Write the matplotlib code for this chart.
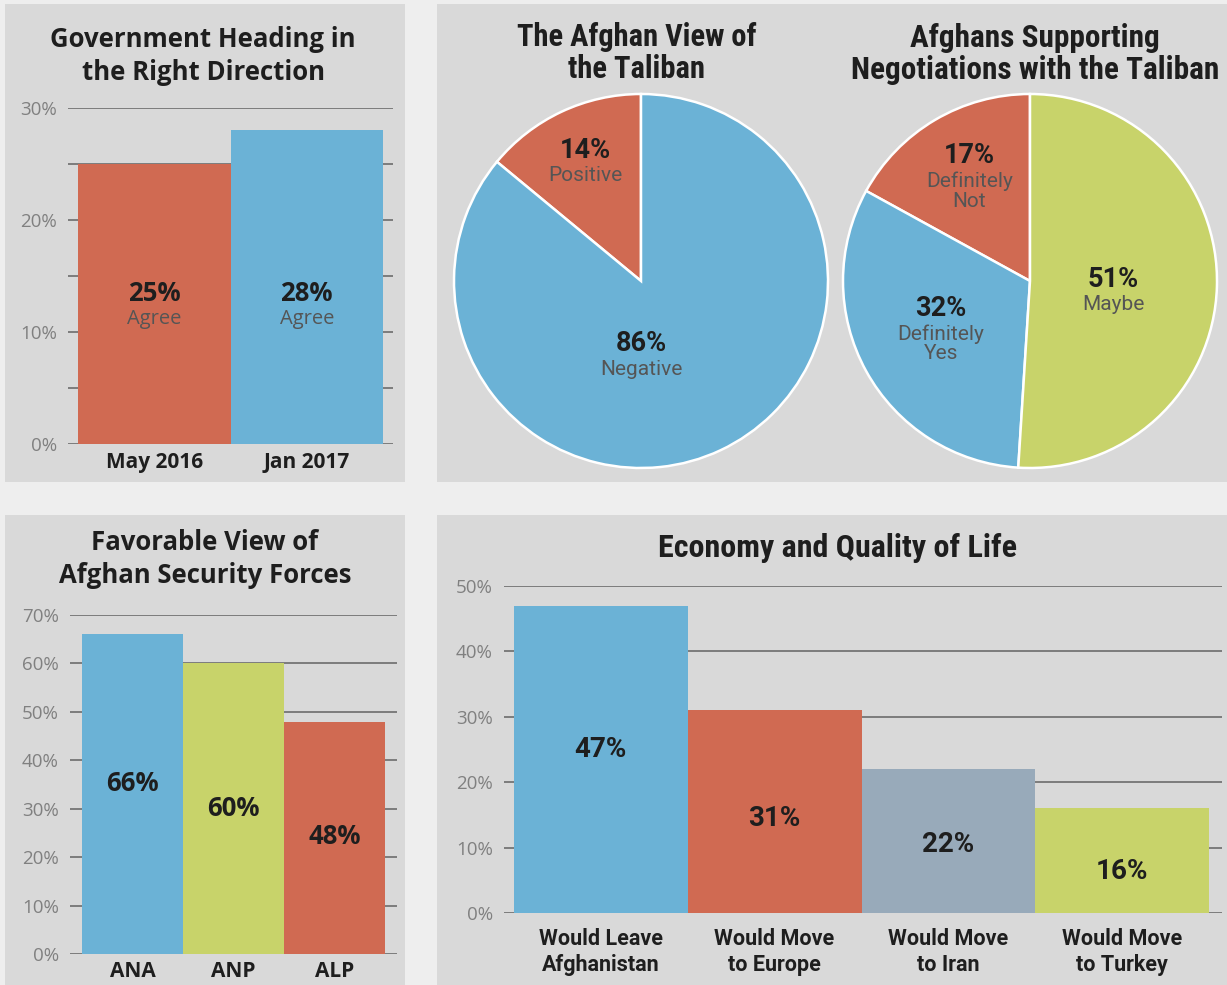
import matplotlib
matplotlib.use("Agg")
import numpy as np
import matplotlib.pyplot as plt
from matplotlib import font_manager as fm
from matplotlib.patches import Rectangle

# ---------------- data ----------------
gov_categories = ["May 2016", "Jan 2017"]
gov_values = [25, 28]
gov_sublabel = "Agree"

taliban_labels = ["Positive", "Negative"]
taliban_values = [14, 86]

negot_labels = ["Definitely\nNot", "Definitely\nYes", "Maybe"]
negot_values = [17, 32, 51]

forces_categories = ["ANA", "ANP", "ALP"]
forces_values = [66, 60, 48]

econ_categories = ["Would Leave\nAfghanistan", "Would Move\nto Europe",
                   "Would Move\nto Iran", "Would Move\nto Turkey"]
econ_values = [47, 31, 22, 16]

# ---------------- style ----------------
RED = "#d06a52"
BLUE = "#6bb2d6"
GREEN = "#c8d36a"
SLATE = "#98aaba"
PANEL = "#d9d9d9"
OUTER = "#eeeeee"
GRID = "#7c7c7c"
TICK = "#808080"
DARK = "#1e1e1e"
SUB = "#555555"

names = {f.name for f in fm.fontManager.ttflist}
def pick(cands):
    for c in cands:
        if c in names:
            return c
    return "DejaVu Sans"
MAIN = pick(["Open Sans", "Lato", "Noto Sans", "DejaVu Sans"])
COND = pick(["Roboto Condensed", "Open Sans Condensed", "Noto Sans Condensed",
             "Liberation Sans Narrow", "Roboto", "Open Sans"])
SEMI = pick(["Roboto", "Noto Sans", "Open Sans"])
plt.rcParams["font.family"] = [MAIN, "DejaVu Sans"]

W, H = 1227, 985
fig = plt.figure(figsize=(W / 100, H / 100), dpi=100, facecolor=OUTER)

def fx(x):
    return x / W
def fy(y):
    return 1 - y / H

def panel(x0, y0, x1, y1):
    fig.patches.append(Rectangle((fx(x0), fy(y1)), (x1 - x0) / W, (y1 - y0) / H,
                                 transform=fig.transFigure, facecolor=PANEL,
                                 edgecolor="none", zorder=-5))

panel(5, 4, 405, 482)
panel(437, 4, 1227, 482)
panel(5, 515, 405, 985)
panel(437, 515, 1227, 985)

def axes_px(L, T, R, B):
    ax = fig.add_axes([fx(L), fy(B), (R - L) / W, (B - T) / H])
    ax.set_zorder(2)
    ax.patch.set_alpha(0)
    return ax

def title(x, y, text, family=MAIN, size=18.5, ls=1.25):
    fig.text(fx(x), fy(y), text, ha="center", va="center", fontsize=size,
             fontweight="bold", color=DARK, family=[family, "DejaVu Sans"],
             linespacing=ls, zorder=5)

def bar_panel(box, bars_px, cats, vals, colors, ymax, step, labstep,
              xfont=MAIN, xsize=15, tsize=13.5, xpad=5):
    L, T, R, B = box
    ax = axes_px(L, T, R, B)
    n = len(vals)
    bl, br = bars_px
    scale = (br - bl) / n
    ax.set_xlim(-0.5 - (bl - L) / scale, n - 0.5 + (R - br) / scale)
    ax.set_ylim(0, ymax)
    x = np.arange(n)
    ax.bar(x, vals, width=1.0, color=colors, zorder=3, linewidth=0)
    ax.set_yticks(np.arange(0, ymax + 0.1, labstep))
    ax.set_yticks(np.arange(0, ymax + 0.1, step), minor=True)
    ax.set_yticklabels([f"{int(v)}%" for v in np.arange(0, ymax + 0.1, labstep)],
                       fontsize=tsize, color=TICK)
    ax.grid(axis="y", which="both", color=GRID, linewidth=1.4, zorder=1)
    ax.set_axisbelow(True)
    ax.tick_params(axis="y", which="both", length=0, pad=8)
    ax.set_xticks(x)
    ax.set_xticklabels(cats, fontsize=xsize, fontweight="bold", color=DARK,
                       family=[xfont, "DejaVu Sans"], linespacing=1.2)
    ax.tick_params(axis="x", length=0, pad=xpad)
    for s in ax.spines.values():
        s.set_visible(False)
    return ax

# ---- Panel 1: Government heading ----
title(203, 56, "Government Heading in\nthe Right Direction")
ax1 = bar_panel((68, 108, 393, 444), (78, 383), gov_categories, gov_values,
                [RED, BLUE], 30, 5, 10, xpad=6)
for i, v in enumerate(gov_values):
    ax1.text(i, 13.4, f"{v}%", ha="center", va="center", fontsize=18.5,
             fontweight="bold", color=DARK)
    ax1.text(i, 11.2, gov_sublabel, ha="center", va="center", fontsize=14.5,
             color=SUB)

# ---- Panel 3: Security forces ----
title(205, 559, "Favorable View of\nAfghan Security Forces")
ax3 = bar_panel((70, 615, 397, 954), (82, 385), forces_categories, forces_values,
                [BLUE, GREEN, RED], 70, 10, 10, xpad=5)
forces_label_y = [35.3, 30.1, 24.3]
for i, v in enumerate(forces_values):
    ax3.text(i, forces_label_y[i], f"{v}%", ha="center", va="center",
             fontsize=18.5, fontweight="bold", color=DARK)

# ---- Panel 4: Economy ----
title(838, 548, "Economy and Quality of Life", family=COND, size=23)
ax4 = bar_panel((504, 586, 1222, 913), (514, 1209), econ_categories, econ_values,
                [BLUE, RED, SLATE, GREEN], 50, 10, 10, xfont=SEMI, xsize=15.5,
                xpad=11)
econ_label_y = [25.0, 14.4, 10.4, 6.3]
for i, v in enumerate(econ_values):
    ax4.text(i, econ_label_y[i], f"{v}%", ha="center", va="center",
             fontsize=20, fontweight="bold", color=DARK,
             family=[SEMI, "DejaVu Sans"])

# ---- Pies ----
def pie_panel(cx, cy, r, vals, labels, colors, lab_pos):
    ax = axes_px(cx - r, cy - r, cx + r, cy + r)
    ax.pie(vals, colors=colors, startangle=90, counterclock=True, radius=1.0,
           wedgeprops=dict(edgecolor="white", linewidth=1.8))
    ax.set_xlim(-1, 1)
    ax.set_ylim(-1, 1)
    ax.set_aspect("equal")
    ax.axis("off")
    for v, lab, (ang, rad) in zip(vals, labels, lab_pos):
        a = np.deg2rad(ang)
        x, y = rad * np.cos(a), rad * np.sin(a)
        nl = lab.count("\n") + 1
        ax.text(x, y + 0.065 * nl, f"{v}%", ha="center", va="center",
                fontsize=19.5, fontweight="bold", color=DARK,
                family=[SEMI, "DejaVu Sans"])
        ax.text(x, y + 0.065 * nl - 0.085, lab, ha="center", va="top",
                fontsize=15, color=SUB, family=[SEMI, "DejaVu Sans"],
                linespacing=1.05)
    return ax

title(637, 53, "The Afghan View of\nthe Taliban", family=COND, size=22, ls=1.05)
title(1035, 54, "Afghans Supporting\nNegotiations with the Taliban", family=COND,
      size=22.5, ls=1.05)

pie_panel(641, 281, 187, taliban_values, taliban_labels, [RED, BLUE],
          [(115, 0.70), (270, 0.40)])
pie_panel(1030, 281, 187, negot_values, negot_labels, [RED, BLUE, GREEN],
          [(121, 0.63), (210, 0.55), (-7, 0.45)])

fig.savefig("out.png", dpi=100, facecolor=OUTER)
